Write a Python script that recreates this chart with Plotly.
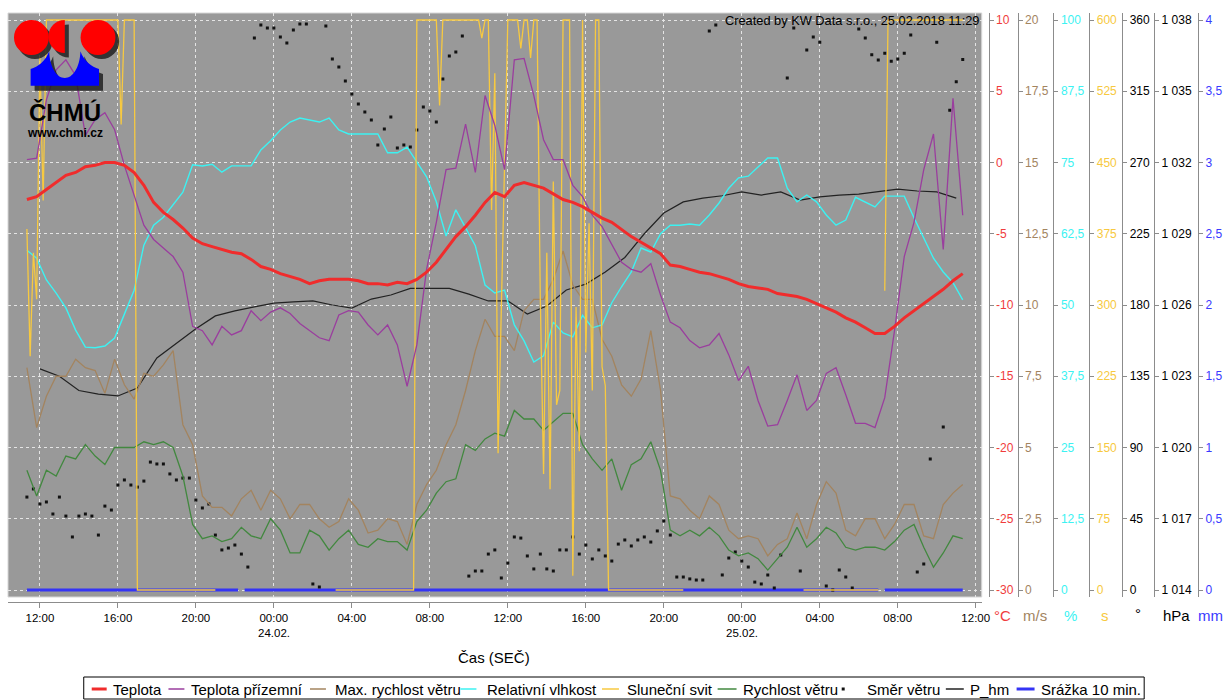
import plotly.graph_objects as go
from datetime import datetime, timedelta

# ------------------------------------------------------------------
# Station data 23.02.2018 11:20 - 25.02.2018 11:20
# ------------------------------------------------------------------
START = datetime(2018, 2, 23, 11, 20)

# half-hourly samples starting 11:20
teplota = [
    -2.6, -2.4, -1.9, -1.4, -0.9, -0.7, -0.3, -0.2, 0.0, 0.0,
    -0.2, -0.7, -1.6, -2.8, -3.5, -4.0, -4.6, -5.3, -5.7, -5.9,
    -6.1, -6.3, -6.4, -6.8, -7.3, -7.5, -7.8, -8.0, -8.2, -8.5,
    -8.3, -8.2, -8.2, -8.2, -8.3, -8.5, -8.5, -8.6, -8.4, -8.5,
    -8.2, -7.7, -7.0, -6.1, -5.2, -4.5, -3.7, -2.8, -2.1, -2.4,
    -1.6, -1.4, -1.6, -1.8, -2.2, -2.6, -2.8, -3.1, -3.5, -3.9,
    -4.2, -4.7, -5.2, -5.6, -6.0, -6.4, -7.2, -7.3, -7.5, -7.7,
    -7.8, -8.0, -8.2, -8.5, -8.7, -8.8, -8.9, -9.2, -9.3, -9.4,
    -9.6, -9.9, -10.2, -10.5, -10.9, -11.2, -11.6, -12.0, -12.0, -11.5,
    -10.9, -10.4, -9.9, -9.4, -8.9, -8.3, -7.8,
]
teplota_prizemni = [
    0.2, 0.3, 4.4, 6.5, 7.2, 6.1, 1.9, 3.0, 3.5, 2.3,
    -0.2, -2.3, -4.4, -5.4, -6.0, -6.6, -7.7, -11.5, -11.8, -12.8,
    -11.5, -12.1, -11.8, -10.4, -11.1, -10.5, -10.2, -10.6, -11.3, -11.8,
    -12.3, -12.5, -10.7, -10.4, -10.5, -11.4, -12.1, -11.4, -12.8, -15.7,
    -12.8, -7.5, -4.2, -0.5, -0.4, 2.7, -0.7, 4.7, 2.6, -0.5,
    7.2, 7.3, 4.7, 1.6, 0.2, 0.2, -1.6, -2.4, -3.7, -4.5,
    -5.8, -7.0, -7.5, -7.7, -7.1, -9.3, -11.2, -11.6, -12.5, -13.0,
    -12.8, -12.0, -13.5, -15.3, -14.3, -16.7, -18.5, -18.4, -16.7, -14.9,
    -17.4, -16.7, -14.8, -14.4, -16.3, -18.3, -18.3, -18.6, -16.5, -11.8,
    -6.6, -4.2, -0.5, 2.0, -6.1, 4.5, -3.7,
]
max_rychlost = [
    7.8, 5.7, 6.8, 7.5, 7.5, 8.1, 7.8, 7.7, 6.9, 8.1,
    7.2, 6.7, 7.6, 7.5, 7.9, 8.4, 5.8, 5.1, 3.3, 2.9,
    2.9, 2.6, 3.2, 3.5, 2.8, 3.5, 3.2, 2.5, 3.0, 3.0,
    2.5, 2.2, 2.4, 3.2, 2.8, 2.0, 2.1, 2.5, 2.4, 1.6,
    3.0, 3.7, 4.2, 5.1, 5.8, 7.0, 8.4, 9.5, 8.9, 8.9,
    8.4, 9.8, 10.2, 10.2, 10.9, 11.9, 10.7, 10.2, 10.2, 8.8,
    8.2, 7.2, 6.8, 7.4, 9.1, 7.0, 3.3, 3.2, 2.8, 2.5,
    3.3, 3.0, 2.1, 1.8, 1.9, 1.8, 1.2, 1.6, 1.8, 2.7,
    1.8, 3.0, 3.8, 3.4, 2.1, 1.9, 2.5, 2.5, 1.8, 2.3,
    3.0, 3.0, 1.9, 1.8, 3.0, 3.4, 3.7,
]
rychlost = [
    4.2, 3.3, 4.2, 4.0, 4.7, 4.6, 5.1, 4.7, 4.4, 5.0,
    5.0, 5.0, 5.2, 5.1, 5.2, 5.0, 4.0, 2.3, 1.8, 1.9,
    1.7, 1.8, 2.2, 1.9, 1.8, 2.5, 2.1, 1.3, 1.3, 2.1,
    1.9, 1.4, 1.8, 2.1, 1.6, 1.5, 1.8, 1.7, 1.7, 1.4,
    2.4, 2.8, 3.4, 3.8, 3.9, 5.1, 4.9, 5.3, 5.5, 5.4,
    6.3, 6.0, 6.0, 5.6, 5.9, 6.2, 6.2, 5.1, 4.6, 4.2,
    4.6, 3.5, 4.4, 4.6, 5.2, 4.2, 2.1, 1.9, 2.1, 1.9,
    2.2, 1.9, 1.4, 1.2, 1.3, 1.1, 0.7, 1.1, 1.5, 2.2,
    1.5, 1.8, 2.2, 2.0, 1.5, 1.4, 1.5, 1.5, 1.4, 1.7,
    2.1, 2.3, 1.5, 0.8, 1.3, 1.9, 1.8,
]
vlhkost = [
    59.6, 58.2, 54.4, 52.1, 49.5, 45.6, 42.6, 42.5, 42.8, 44.2,
    48.4, 52.6, 60.5, 64.0, 65.4, 67.5, 69.8, 74.6, 74.4, 74.7,
    73.3, 74.4, 74.4, 74.4, 77.2, 78.8, 80.7, 82.1, 82.8, 82.5,
    82.1, 82.8, 80.7, 80.0, 80.0, 80.0, 80.0, 76.7, 76.7, 77.7,
    75.1, 72.5, 68.1, 62.1, 66.7, 63.5, 60.4, 53.5, 52.1, 52.6,
    46.5, 43.7, 40.0, 41.1, 47.0, 45.1, 44.4, 48.2, 46.0, 46.5,
    50.4, 53.2, 55.8, 60.0, 59.3, 62.5, 64.0, 64.0, 64.2, 64.0,
    65.8, 67.9, 70.5, 72.3, 72.6, 74.2, 75.8, 75.8, 70.5, 68.1,
    69.3, 68.1, 65.8, 64.0, 64.9, 68.9, 68.1, 67.2, 69.1, 69.1,
    69.1, 65.3, 61.8, 58.2, 55.8, 53.9, 50.9,
]

# wind direction, 20-minute samples starting 11:20
smer = [
    58.7, 63.8, 54.3, 55.6, 48, 58.7, 46.7, 33.5, 46.7, 48,
    46.7, 34.7, 53, 50.5, 66.3, 69.5, 66.3, 65, 68.8, 80.8,
    79.6, 79.6, 73.3, 69.5, 70.7, 70.7, 56.8, 51.8, 54.3, 34.7,
    25.3, 26.5, 28.4, 22.7, 14.5, 348.6, 356.8, 355, 355, 349.3,
    345.5, 353.7, 357.5, 357.5, 3.8, 1.9, 356.2, 335.4, 330.3, 321.5,
    313.3, 307, 301.9, 296.8, 281, 291.2, 298.7, 279.2, 281, 279.8,
    290.5, 305, 302.5, 295.6, 322.7, 337.3, 339.8, 349.9, 8.8, 12,
    12, 22.7, 25.3, 7.6, 17, 33.5, 32.8, 21.5, 13.3, 22.7,
    13.3, 12, 25.3, 25.3, 33.5, 22.7, 28.4, 19.6, 25.3, 21.5,
    18.3, 29, 31.6, 27.8, 31.6, 33.5, 30.3, 37.3, 43.6, 34.7,
    8.2, 8.2, 7, 6.3, 6.3, 353, 356.8, 9.5, 20.2, 24,
    18.3, 14.5, 5, 3.8, 9.5, 1.3, 22.1, 323.4, 355, 12,
    341, 349.3, 346, 2.5, 0, 12.6, 8.2, 1.3, 354.3, 348.6,
    338, 334.7, 339, 334, 335.4, 339, 350.5, 11.4, 16.4, 82.7,
    346, 103, 303, 321, 335,
]

# station pressure, hourly from 23.02. 12:00
p_hm = [
    1023.31, 1023.0, 1022.4, 1022.25, 1022.17, 1022.5, 1023.77, 1024.4, 1025.0, 1025.54,
    1025.75, 1025.92, 1026.08, 1026.13, 1026.17, 1026.0, 1025.87, 1026.25, 1026.42, 1026.7,
    1026.7, 1026.7, 1026.46, 1026.17, 1026.17, 1025.62, 1025.96, 1026.63, 1026.88, 1027.39,
    1028.0, 1029.0, 1029.87, 1030.34, 1030.5, 1030.6, 1030.76, 1030.63, 1030.76, 1030.42,
    1030.55, 1030.63, 1030.67, 1030.76, 1030.88, 1030.8, 1030.76, 1030.5,
]

# sunshine duration per 10 min (s); None = no record
svit_cas = [
    "2018-02-23 11:20", "2018-02-23 11:30", "2018-02-23 11:40", "2018-02-23 11:50",
    "2018-02-23 12:00", "2018-02-23 12:10", "2018-02-23 12:20", "2018-02-23 16:00",
    "2018-02-23 16:10", "2018-02-23 16:20", "2018-02-23 16:50", "2018-02-23 17:00",
    "2018-02-23 21:00", "2018-02-23 21:10",
    "2018-02-24 03:10", "2018-02-24 07:10", "2018-02-24 07:20", "2018-02-24 08:20",
    "2018-02-24 08:30", "2018-02-24 08:40", "2018-02-24 10:30", "2018-02-24 10:40",
    "2018-02-24 10:50", "2018-02-24 11:00", "2018-02-24 11:10", "2018-02-24 11:20",
    "2018-02-24 11:30", "2018-02-24 11:40", "2018-02-24 11:50", "2018-02-24 12:00",
    "2018-02-24 12:30", "2018-02-24 12:40", "2018-02-24 12:50", "2018-02-24 13:00",
    "2018-02-24 13:10", "2018-02-24 13:20", "2018-02-24 13:30", "2018-02-24 13:40",
    "2018-02-24 13:50", "2018-02-24 14:00", "2018-02-24 14:10", "2018-02-24 14:20",
    "2018-02-24 14:30", "2018-02-24 14:40", "2018-02-24 14:50", "2018-02-24 15:10",
    "2018-02-24 15:20", "2018-02-24 15:30", "2018-02-24 15:40", "2018-02-24 15:50",
    "2018-02-24 16:00", "2018-02-24 16:10", "2018-02-24 16:20", "2018-02-24 16:30",
    "2018-02-24 16:40", "2018-02-24 16:50", "2018-02-24 17:00", "2018-02-24 17:10",
    "2018-02-24 21:00", "2018-02-24 21:10",
    "2018-02-25 03:10", "2018-02-25 07:00", "2018-02-25 07:10", "2018-02-25 07:20",
    "2018-02-25 07:30", "2018-02-25 11:20",
]
svit = [
    380, 246, 355, 306,
    560, 410, 600, 600,
    490, 600, 600, 0,
    0, None,
    0, 0, 600, 600,
    510, 600, 600, 581,
    600, 600, 400, 544,
    144, 300, 420, 600,
    600, 570, 600, 600,
    560, 600, 600, 306,
    122, 355, 106, 430,
    195, 210, 600, 600,
    15, 298, 146, 600,
    250, 386, 210, 600,
    600, 235, 215, 0,
    0, None,
    0, 0, None, 315,
    600, 600,
]

# 10-minute precipitation (mm); None = no record
srazka_cas = [
    "2018-02-23 11:20", "2018-02-23 22:10", "2018-02-23 22:20", "2018-02-23 22:30",
    "2018-02-25 07:00", "2018-02-25 07:10", "2018-02-25 07:20", "2018-02-25 11:20",
]
srazka = [0, 0, None, 0, 0, None, 0, 0]

# axis ticks
x_ticks = ["2018-02-23 12:00", "2018-02-23 16:00", "2018-02-23 20:00", "2018-02-24 00:00",
           "2018-02-24 04:00", "2018-02-24 08:00", "2018-02-24 12:00", "2018-02-24 16:00",
           "2018-02-24 20:00", "2018-02-25 00:00", "2018-02-25 04:00", "2018-02-25 08:00",
           "2018-02-25 12:00"]
x_labels = ["12:00", "16:00", "20:00", "00:00", "04:00", "08:00", "12:00", "16:00",
            "20:00", "00:00", "04:00", "08:00", "12:00"]
t_ticks = [-30, -25, -20, -15, -10, -5, 0, 5, 10]
t_labels = ["-30", "-25", "-20", "-15", "-10", "-5", "0", "5", "10"]
ms_ticks = [0, 2.5, 5, 7.5, 10, 12.5, 15, 17.5, 20]
ms_labels = ["0", "2,5", "5", "7,5", "10", "12,5", "15", "17,5", "20"]
pct_ticks = [0, 12.5, 25, 37.5, 50, 62.5, 75, 87.5, 100]
pct_labels = ["0", "12,5", "25", "37,5", "50", "62,5", "75", "87,5", "100"]
s_ticks = [0, 75, 150, 225, 300, 375, 450, 525, 600]
s_labels = ["0", "75", "150", "225", "300", "375", "450", "525", "600"]
deg_ticks = [0, 45, 90, 135, 180, 225, 270, 315, 360]
deg_labels = ["0", "45", "90", "135", "180", "225", "270", "315", "360"]
hpa_ticks = [1014, 1017, 1020, 1023, 1026, 1029, 1032, 1035, 1038]
hpa_labels = ["1 014", "1 017", "1 020", "1 023", "1 026", "1 029", "1 032", "1 035", "1 038"]
mm_ticks = [0, 0.5, 1, 1.5, 2, 2.5, 3, 3.5, 4]
mm_labels = ["0", "0,5", "1", "1,5", "2", "2,5", "3", "3,5", "4"]

# ------------------------------------------------------------------
# colours
# ------------------------------------------------------------------
C_TEP = "#f02c2c"
C_PRI = "#9a3e9e"
C_MAX = "#a3845f"
C_VLH = "#3cf2f2"
C_SVIT = "#f7c940"
C_RYCH = "#42883f"
C_DOT = "#111111"
C_P = "#222222"
C_SRA = "#3434f5"
C_AXIS = "#8c8c8c"
FONT = "Liberation Sans, Arial, sans-serif"

# ------------------------------------------------------------------
# page geometry (pixels -> paper fractions)
# ------------------------------------------------------------------
W, H = 1230, 700
ML, MR, MT, MB = 8, 28, 13, 98
PW = W - ML - MR
PH = H - MT - MB


def px(x):
    return (x - ML) / PW


def py(y):
    return (H - MB - y) / PH


def P(x, y):
    return f"{px(x):.5f},{py(y):.5f}"


t30 = [START + timedelta(minutes=30 * i) for i in range(len(teplota))]
t20 = [START + timedelta(minutes=20 * i) for i in range(len(smer))]
t60 = [datetime(2018, 2, 23, 12, 0) + timedelta(hours=i) for i in range(len(p_hm))]


def padded(ticks):
    lo, hi = ticks[0], ticks[-1]
    pad = (hi - lo) * 7 / 570
    return [lo - pad, hi + pad]


fig = go.Figure()


def add_line(x, y, color, width, axis, name):
    fig.add_trace(go.Scatter(
        x=x, y=y, name=name, mode="lines", yaxis=axis,
        line=dict(color=color, width=width), connectgaps=False,
        showlegend=False, hoverinfo="skip"))


# drawing order: precipitation at the bottom, temperatures on top
add_line(srazka_cas, srazka, C_SRA, 3, "y", "Srážka 10 min.")
add_line(t60, p_hm, C_P, 1.2, "y2", "P_hm")
fig.add_trace(go.Scatter(
    x=t20, y=smer, name="Směr větru", mode="markers", yaxis="y3",
    marker=dict(symbol="square", size=3, color=C_DOT, line=dict(width=0)),
    showlegend=False, hoverinfo="skip"))
add_line(t30, rychlost, C_RYCH, 1.3, "y4", "Rychlost větru")
add_line(t30, max_rychlost, C_MAX, 1.3, "y4", "Max. rychlost větru")
add_line(t30, vlhkost, C_VLH, 1.4, "y5", "Relativní vlhkost")
add_line(svit_cas, svit, C_SVIT, 1.3, "y6", "Sluneční svit")
add_line(t30, teplota_prizemni, C_PRI, 1.3, "y7", "Teplota přízemní")
add_line(t30, teplota, C_TEP, 3, "y7", "Teplota")


def yaxis(ticks, labels, color, xpix, base=False):
    d = dict(
        range=padded(ticks), tickvals=ticks, ticktext=labels,
        tickfont=dict(color=color, size=12, family=FONT),
        side="right", anchor="free", position=min(px(xpix), 1.0),
        showline=True, linecolor=C_AXIS, linewidth=1,
        ticks="outside", ticklen=4, tickcolor=C_AXIS,
        zeroline=False, fixedrange=True, showgrid=base,
    )
    if base:
        d.update(domain=[py(597), 1.0], gridcolor="#e4e4e4", griddash="3px,3px", gridwidth=1)
    else:
        d["overlaying"] = "y"
    return d


fig.update_layout(
    width=W, height=H,
    margin=dict(l=ML, r=MR, t=MT, b=MB),
    paper_bgcolor="white",
    plot_bgcolor="#999999",
    hovermode=False,
    font=dict(family=FONT, color="black"),
    xaxis=dict(
        type="date", domain=[0, px(985)], anchor="free", position=0,
        range=["2018-02-23 10:21:50", "2018-02-25 12:18:25"],
        tickvals=x_ticks, ticktext=x_labels,
        tickfont=dict(size=11.5, color="black", family=FONT),
        showline=True, linecolor=C_AXIS, linewidth=1,
        ticks="outside", ticklen=5, tickcolor=C_AXIS,
        showgrid=True, gridcolor="#e4e4e4", griddash="3px,3px", gridwidth=1,
        zeroline=False, fixedrange=True,
    ),
    yaxis=yaxis(mm_ticks, mm_labels, "#3a3aff", 1202, base=True),
    yaxis2=yaxis(hpa_ticks, hpa_labels, "black", 1158),
    yaxis3=yaxis(deg_ticks, deg_labels, "black", 1126),
    yaxis4=yaxis(ms_ticks, ms_labels, "#a3845f", 1021),
    yaxis5=yaxis(pct_ticks, pct_labels, "#3cf2f2", 1057),
    yaxis6=yaxis(s_ticks, s_labels, "#f7c940", 1093),
    yaxis7=yaxis(t_ticks, t_labels, "#f03c3c", 992),
)

shapes = []
ann = []

# thin light frame of the plotting area
shapes.append(dict(type="rect", xref="paper", yref="paper",
                   x0=px(8), x1=px(985), y0=py(597), y1=py(13),
                   line=dict(color="#d6d6d6", width=1), layer="below"))

# ---- ČHMÚ logo ----
SH = "rgba(25,25,25,0.8)"


def circle(cx, cy, r, color):
    return dict(type="circle", xref="paper", yref="paper",
                x0=px(cx - r), x1=px(cx + r), y0=py(cy + r), y1=py(cy - r),
                fillcolor=color, line=dict(width=0), layer="above")


def half_disc(cx, cy, r, color):
    # left half of a disc, flat edge on the right
    k = 0.5523 * r
    path = (f"M{P(cx, cy - r)} C{P(cx - k, cy - r)} {P(cx - r, cy - k)} {P(cx - r, cy)} "
            f"C{P(cx - r, cy + k)} {P(cx - k, cy + r)} {P(cx, cy + r)} Z")
    return dict(type="path", xref="paper", yref="paper", path=path,
                fillcolor=color, line=dict(width=0), layer="above")


def wave(dx, dy, color):
    def q(x, y):
        return P(x + dx, y + dy)
    path = (f"M{q(30.7, 85.7)} L{q(30.7, 69)} "
            f"C{q(38, 67)} {q(46, 61)} {q(49.3, 51.3)} "
            f"C{q(50, 68)} {q(57, 78)} {q(65, 78)} "
            f"C{q(73, 78)} {q(80, 68)} {q(80.7, 51.3)} "
            f"C{q(84, 61)} {q(92, 67)} {q(99.3, 69)} "
            f"L{q(99.3, 85.7)} Z")
    return dict(type="path", xref="paper", yref="paper", path=path,
                fillcolor=color, line=dict(width=0), layer="above")


shapes += [
    circle(35, 41.5, 17.5, SH), half_disc(69, 41, 16.5, SH), circle(102, 41.5, 17.5, SH),
    wave(4, 5, SH),
    circle(31.5, 37.5, 17.5, "#ff0000"), half_disc(65, 36.5, 16.5, "#ff0000"),
    circle(98.3, 37.5, 17.5, "#ff0000"),
    wave(0, 0, "#0000ff"),
]


def text(x, y, s, size, color="black", xanchor="center", bold=False):
    ann.append(dict(xref="paper", yref="paper", x=px(x), y=py(y),
                    text=f"<b>{s}</b>" if bold else s, showarrow=False,
                    xanchor=xanchor, yanchor="middle",
                    font=dict(size=size, color=color, family=FONT)))


text(65, 112, "ČHMÚ", 24, bold=True)
text(65, 133, "www.chmi.cz", 12, bold=True)
text(984, 20, "Created by KW Data s.r.o., 25.02.2018 11:29", 12.8, xanchor="right")

# date labels under the midnight ticks
text(275, 633, "24.02.", 11.5)
text(744, 633, "25.02.", 11.5)
text(496, 657, "Čas (SEČ)", 15)

# units under the right-hand axes
text(1006, 615, "°C", 15, "#f03c3c")
text(1038, 615, "m/s", 15, "#a3845f")
text(1074, 615, "%", 15, "#3cf2f2")
text(1109, 615, "s", 15, "#f7c940")
text(1142, 613, "°", 15, "black")
text(1180, 615, "hPa", 15, "black")
text(1215, 615, "mm", 15, "#3a3aff")

# ---- legend ----
LY = 689
shapes.append(dict(type="rect", xref="paper", yref="paper",
                   x0=px(84), x1=px(1148), y0=py(699), y1=py(677),
                   line=dict(color="black", width=1), fillcolor="white", layer="above"))
legend_items = [
    (92, 107, "Teplota", 111, C_TEP, 3),
    (169, 185, "Teplota přízemní", 190, C_PRI, 1.5),
    (311, 327, "Max. rychlost větru", 334, C_MAX, 1.5),
    (462, 478, "Relativní vlhkost", 487, C_VLH, 1.5),
    (604, 621, "Sluneční svit", 627, C_SVIT, 1.5),
    (720, 739, "Rychlost větru", 743, C_RYCH, 1.5),
    (None, None, "Směr větru", 868, C_DOT, 0),
    (949, 967, "P_hm", 971, C_P, 1.5),
    (1020, 1038, "Srážka 10 min.", 1042, C_SRA, 3),
]
for a, b, label, tx, color, w in legend_items:
    if a is None:
        shapes.append(dict(type="rect", xref="paper", yref="paper",
                           x0=px(844.5), x1=px(847.5), y0=py(690.5), y1=py(687.5),
                           fillcolor=color, line=dict(width=0), layer="above"))
    else:
        shapes.append(dict(type="line", xref="paper", yref="paper",
                           x0=px(a), x1=px(b), y0=py(LY), y1=py(LY),
                           line=dict(color=color, width=w), layer="above"))
    text(tx, LY, label, 15, xanchor="left")

fig.update_layout(shapes=shapes, annotations=ann)
fig.write_html("out.html", config={"displayModeBar": False})
